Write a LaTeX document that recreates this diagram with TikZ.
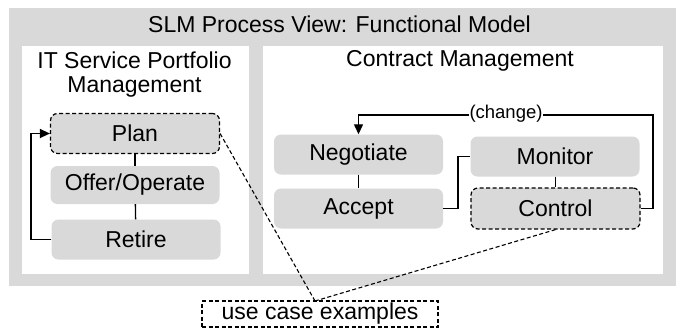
\documentclass[tikz,border=0pt]{standalone}
\usepackage{fontspec}
\setmainfont{Liberation Sans}
\usetikzlibrary{arrows.meta}
\definecolor{panelgray}{HTML}{D9D9D9}
\begin{document}
\begin{tikzpicture}[x=1pt,y=-1pt,
  every node/.style={font=\fontsize{23}{24}\selectfont, text=black},
  stepbox/.style={fill=panelgray, rounded corners=7pt, minimum width=169pt,
    minimum height=40pt, inner sep=0pt},
  usecase/.style={stepbox, draw=black, line width=1.2pt, dash pattern=on 4pt off 2.5pt},
  link/.style={draw=black, line width=1.3pt},
  hint/.style={draw=black, line width=1.1pt, dash pattern=on 4pt off 2.5pt},
  tip/.style={-{Triangle[length=10pt,width=9pt]}}]
\useasboundingbox (0,0) rectangle (676,330);

% frame and the two areas
\fill[panelgray] (9,8) rectangle (676,286);
\fill[white] (22,46) rectangle (249,274);
\fill[white] (263,46) rectangle (663,274);

\node (title) at (339.5,24) {SLM Process View: Functional Model};
\node[align=center, font=\fontsize{23}{24}\selectfont] (itspm) at (134.5,75)
  {IT Service Portfolio\\Management};
\node (cm) at (460,61) {Contract Management};

% IT service portfolio management steps
\node[usecase] (plan) at (135,133.5) {Plan};
\node[stepbox, minimum height=38pt] (offer) at (135,185) {Offer/Operate};
\node[stepbox] (retire) at (136,239.5) {Retire};

% contract management steps
\node[stepbox] (negotiate) at (358.5,154.5) {Negotiate};
\node[stepbox] (accept) at (358.5,208.5) {Accept};
\node[stepbox] (monitor) at (555,156.5) {Monitor};
\node[usecase, minimum height=41pt] (control) at (555.5,208.5) {Control};

% note box
\node[draw=black, line width=1.2pt, dash pattern=on 4pt off 2.5pt, fill=white,
  minimum width=236pt, minimum height=26pt, inner sep=0pt] (uc) at (320,314)
  {use case examples};

% connectors
\coordinate (lx) at (31,0);
\coordinate (mx) at (458,0);
\coordinate (ch) at (653,115);
\coordinate (ucend) at (315,301);

\draw[link] (plan) -- (offer);
\draw[link] (offer) -- (retire);
\draw[link, tip] (retire.west) -- (retire.west -| lx) |- (plan.west);

\draw[link] (negotiate) -- (accept);
\draw[link] (monitor.south -| control.north) -- (control.north);
\draw[link] (accept.east) -- (accept.east -| mx) |- (monitor.west);
\draw[link, tip] (control.east) -| (ch) -| (negotiate.north);
\node[fill=white, inner sep=0.5pt, font=\fontsize{18.5}{20}\selectfont] (change) at (506,114) {(change)};

\draw[hint] (plan.east) -- (ucend);
\draw[hint] (control.south) -- (ucend);
\end{tikzpicture}
\end{document}
